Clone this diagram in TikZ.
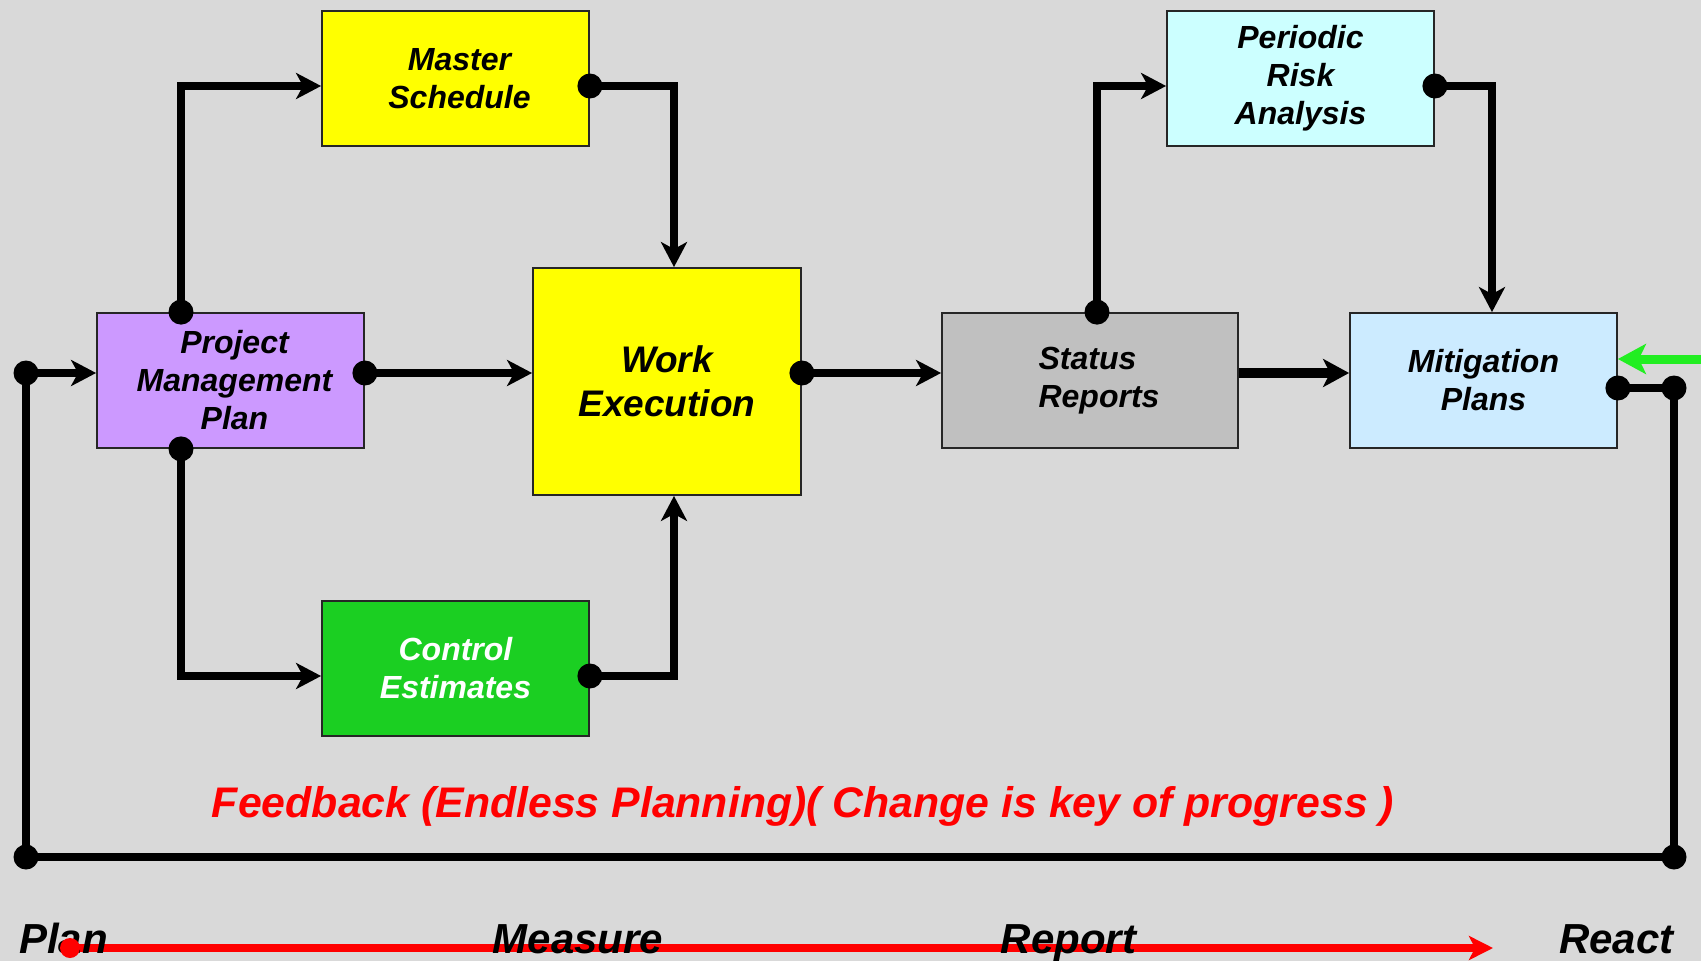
\documentclass[tikz,border=0pt]{standalone}
\usepackage{fontspec}
\setmainfont{Liberation Sans}
\usetikzlibrary{arrows.meta}
\definecolor{bg}{HTML}{D9D9D9}
\definecolor{ylw}{HTML}{FFFF00}
\definecolor{lilac}{HTML}{CC99FF}
\definecolor{grn}{HTML}{1BCF22}
\definecolor{greybox}{HTML}{C0C0C0}
\definecolor{cyanbox}{HTML}{CCFFFF}
\definecolor{bluebox}{HTML}{CCEBFF}
\definecolor{brightgreen}{HTML}{22EE22}
\definecolor{redtxt}{HTML}{FF0000}
\begin{document}
\begin{tikzpicture}[x=1pt,y=-1pt,
  box/.style={draw=black!85, line width=1.8pt, minimum width=267pt, minimum height=135pt,
    inner sep=0pt, align=center, font=\bfseries\itshape\fontsize{32}{38}\selectfont},
  conn/.style={line width=7.5pt, -{Stealth[length=25pt,width=26pt,inset=7pt]}},
  thickconn/.style={line width=10pt, -{Stealth[length=26pt,width=28pt,inset=7pt]}},
  wire/.style={line width=7.5pt},
  loopwire/.style={line width=8.5pt},
  dotr/.style={radius=12.5pt},
  lbl/.style={anchor=base, font=\bfseries\itshape\fontsize{42}{48}\selectfont}
]
\fill[bg] (0,0) rectangle (1701,961);
\useasboundingbox (0,0) rectangle (1701,961);

% boxes
\node[box, fill=ylw] (ms) at (455.5,78.5) {\hspace*{8pt}Master\\\hspace*{8pt}Schedule};
\node[box, fill=lilac] (pmp) at (230.5,380.5) {\hspace*{8pt}Project\\\hspace*{8pt}Management\\\hspace*{8pt}Plan};
\node[box, fill=ylw, minimum width=268pt, minimum height=227pt,
      font=\bfseries\itshape\fontsize{37}{44}\selectfont] (we) at (667,381.5) {Work\\Execution};
\node[box, fill=grn, text=white] (ce) at (455.5,668.5) {Control\\Estimates};
\node[box, fill=greybox, minimum width=296pt, align=left] (sr) at (1090,380.5)
      {\hspace*{18pt}Status\\\hspace*{18pt}Reports};
\node[box, fill=cyanbox] (pra) at (1300.5,78.5) {Periodic\\Risk\\Analysis};
\node[box, fill=bluebox] (mp) at (1483.5,380.5) {Mitigation\\Plans};

% connection points
\coordinate (pmpT) at ([xshift=-49.5pt]pmp.north);
\coordinate (pmpB) at ([xshift=-49.5pt]pmp.south);
\coordinate (pmpE) at ([yshift=7.5pt]pmp.east);
\coordinate (pmpW) at ([yshift=7.5pt]pmp.west);
\coordinate (msW) at ([yshift=-7.5pt]ms.west);
\coordinate (msE) at ([yshift=-7.5pt]ms.east);
\coordinate (weN) at ([xshift=7pt]we.north);
\coordinate (weS) at ([xshift=7pt]we.south);
\coordinate (weE) at ([yshift=8.5pt]we.east);
\coordinate (ceW) at ([yshift=-7.5pt]ce.west);
\coordinate (ceE) at ([yshift=-7.5pt]ce.east);
\coordinate (srT) at ([xshift=7pt]sr.north);
\coordinate (srE) at ([yshift=7.5pt]sr.east);
\coordinate (praW) at ([yshift=-7.5pt]pra.west);
\coordinate (praE) at ([yshift=-7.5pt]pra.east);
\coordinate (mpN) at ([xshift=8.5pt]mp.north);
\coordinate (mpE) at ([yshift=-7.5pt]mp.east);
\coordinate (mpG) at ([yshift=21.5pt]mp.east);
\coordinate (rTop) at (1674,388);
\coordinate (rBot) at (1674,857);
\coordinate (lBot) at (26,857);
\coordinate (lTop) at (26,373);
\coordinate (gStart) at (1701,359);
\coordinate (redS) at (70,948);
\coordinate (redE) at (1493,948);

% connectors
\draw[conn] (pmpT) |- (msW);
\draw[conn] (msE) -| (weN);
\draw[conn] (pmpE) -- (pmpE -| we.west);
\draw[conn] (pmpB) |- (ceW);
\draw[conn] (ceE) -| (weS);
\draw[conn] (weE) -- (weE -| sr.west);
\draw[conn] (srT) |- (praW);
\draw[conn] (praE) -| (mpN);
\draw[thickconn] (srE) -- (srE -| mp.west);
\draw[wire] (mpE) -- (rTop);
\draw[loopwire] (rTop) -- (rBot) -- (lBot) -- (lTop);
\draw[conn] (lTop) -- (pmpW);
\draw[line width=9pt, brightgreen, -{Stealth[length=28pt,width=30pt,inset=7pt]}] (gStart) -- (mpG);

% dots
\foreach \p in {pmpT,pmpB,pmpE,msE,ceE,weE,srT,praE,mpE,rTop,rBot,lBot,lTop}
  \fill[dotr] (\p) circle;

% feedback text
\node[lbl, text=redtxt, font=\bfseries\itshape\fontsize{42.8}{48}\selectfont] (fb) at (803,817) {Feedback (Endless Planning)( Change is key of progress )};

% bottom timeline
\draw[redtxt, line width=8pt, -{Stealth[length=24pt,width=24pt,inset=6pt]}] (redS) -- (redE);
\node[lbl] (plan) at (63.5,953) {Plan};
\node[lbl] (measure) at (578,953) {Measure};
\node[lbl] (report) at (1068.5,953) {Report};
\node[lbl] (react) at (1616.5,953) {React};
\fill[redtxt] (redS) circle (10pt);
\end{tikzpicture}
\end{document}
